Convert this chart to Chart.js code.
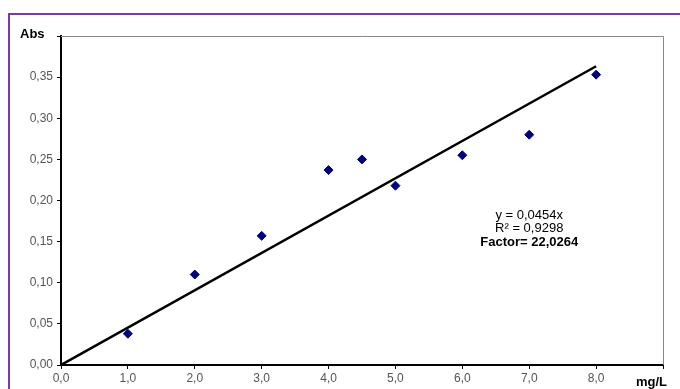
<!DOCTYPE html>
<html>
<head>
<meta charset="utf-8">
<script src="https://cdn.jsdelivr.net/npm/chart.js@4/dist/chart.umd.min.js"></script>
<style>
  html, body { margin: 0; padding: 0; background: #fff; overflow: hidden; }
  #wrap { position: relative; width: 680px; height: 389px; }
  #frame { position: absolute; left: 8px; top: 13px; width: 700px; height: 400px;
           border-left: 2px solid #7b3aa8; border-top: 2px solid #7b3aa8; }
  canvas { position: absolute; left: 0; top: 0; }
</style>
</head>
<body>
<div id="wrap">
  <div id="frame"></div>
  <canvas id="myChart" width="680" height="389"></canvas>
</div>
<script>
const concentrations = [1, 2, 3, 4, 4.5, 5, 6, 7, 8];
const absorbances = [0.038, 0.110, 0.157, 0.237, 0.250, 0.218, 0.255, 0.280, 0.353];
const trendX = [0, 8];
const trendY = [0, 0.3632];
const equationLines = ['y = 0,0454x', 'R² = 0,9298', 'Factor= 22,0264'];

const fontFamily = '"Liberation Sans", Arial, sans-serif';

const points = concentrations.map((x, i) => ({ x: x, y: absorbances[i] }));
const trend = trendX.map((x, i) => ({ x: x, y: trendY[i] }));

// gray frame on top/right of plot, plus the axis captions and the equation
const extras = {
  id: 'extras',
  beforeDatasetsDraw(chart) {
    const { ctx, chartArea: a } = chart;
    ctx.save();
    ctx.strokeStyle = '#888';
    ctx.lineWidth = 1;
    ctx.beginPath();
    ctx.moveTo(a.left, a.top + 0.5);
    ctx.lineTo(a.right + 0.5, a.top + 0.5);
    ctx.lineTo(a.right + 0.5, a.bottom);
    ctx.stroke();
    ctx.restore();
  },
  afterDraw(chart) {
    const { ctx } = chart;
    const xs = chart.scales.x, ys = chart.scales.y;
    ctx.save();
    ctx.fillStyle = '#000';
    ctx.font = 'bold 13px ' + fontFamily;
    ctx.textBaseline = 'middle';
    ctx.textAlign = 'left';
    ctx.fillText('Abs', 20, 34);
    ctx.fillText('mg/L', 636, 382);

    const cx = xs.getPixelForValue(7.0);
    let cy = ys.getPixelForValue(0.182);
    ctx.textAlign = 'center';
    ctx.font = '13px ' + fontFamily;
    ctx.fillText(equationLines[0], cx, cy);
    ctx.fillText(equationLines[1], cx, cy + 13.5);
    ctx.font = 'bold 13px ' + fontFamily;
    ctx.fillText(equationLines[2], cx, cy + 27);
    ctx.restore();
  }
};

const ctx = document.getElementById('myChart').getContext('2d');
const myChart = new Chart(ctx, {
  type: 'scatter',
  data: {
    datasets: [
      {
        label: 'Trend',
        type: 'line',
        data: trend,
        borderColor: '#000',
        borderWidth: 2.5,
        pointRadius: 0,
        fill: false,
        order: 2
      },
      {
        label: 'Abs',
        data: points,
        pointStyle: 'rectRot',
        pointRadius: 4.5,
        backgroundColor: '#000080',
        borderColor: '#000080',
        borderWidth: 1,
        order: 1
      }
    ]
  },
  options: {
    responsive: false,
    animation: false,
    layout: { padding: { left: 0, top: 36, right: 17, bottom: 0 } },
    plugins: {
      legend: { display: false },
      tooltip: { enabled: false }
    },
    scales: {
      x: {
        type: 'linear',
        min: 0,
        max: 9,
        afterFit(scale) { scale.height = 24; },
        ticks: {
          stepSize: 1,
          color: '#555',
          font: { family: fontFamily, size: 12 },
          padding: 2,
          maxRotation: 0,
          callback: v => (v >= 9 ? '' : v.toFixed(1).replace('.', ','))
        },
        grid: { drawOnChartArea: false, color: '#000', tickLength: 4 },
        border: { color: '#000', width: 2 }
      },
      y: {
        min: 0,
        max: 0.4,
        afterFit(scale) { scale.width = 61; },
        ticks: {
          stepSize: 0.05,
          color: '#555',
          font: { family: fontFamily, size: 12 },
          padding: 4,
          callback: v => (v >= 0.399 ? '' : v.toFixed(2).replace('.', ','))
        },
        grid: { drawOnChartArea: false, color: '#000', tickLength: 4 },
        border: { color: '#000', width: 2 }
      }
    }
  },
  plugins: [extras]
});
</script>
</body>
</html>
